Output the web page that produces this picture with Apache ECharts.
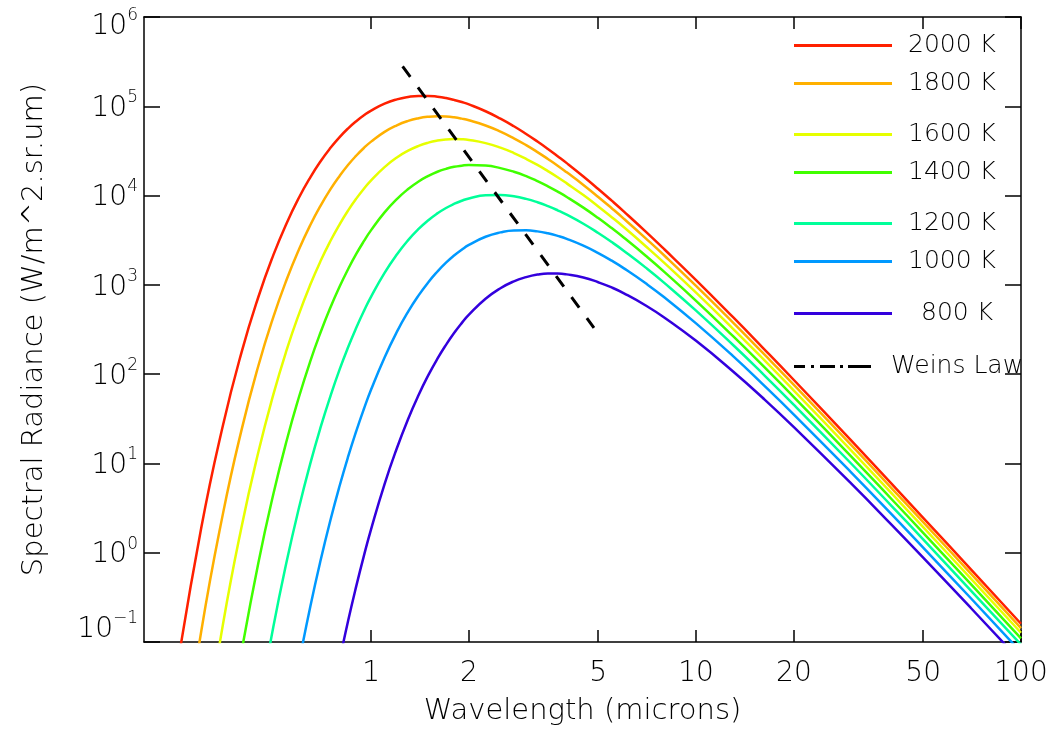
<!DOCTYPE html>
<html>
<head>
<meta charset="utf-8">
<script src="https://cdn.jsdelivr.net/npm/echarts@6/dist/echarts.min.js"></script>
<style>
html,body{margin:0;padding:0;background:#fff;}
#chart{width:1056px;height:738px;}
</style>
</head>
<body>
<div id="chart"></div>
<script>
// ---------------- data ----------------
const wavelength = [
  0.25, 0.3, 0.35, 0.4, 0.45, 0.5,
  0.55, 0.6, 0.65, 0.7, 0.75, 0.8, 0.85, 0.9, 0.95, 1,
  1.1, 1.2, 1.3, 1.4, 1.5, 1.6, 1.7, 1.8, 1.9, 2,
  2.25, 2.5, 2.75, 3, 3.25, 3.5, 3.75, 4,
  4.5, 5, 5.5, 6, 7, 8, 10,
  13, 16, 20, 30, 40, 50, 70, 100];

const seriesNames = ['2000 K', '1800 K', '1600 K', '1400 K', '1200 K', '1000 K', '800 K'];

const radiance2000 = [
  0.039, 1.89, 26.8, 180, 736, 2150,
  4936, 9510, 16020, 24400, 34260, 45200, 56640, 68100, 79200, 89500,
  106900, 119500, 127200, 130700, 130700, 128100, 123700, 117900, 111600, 104900,
  88000, 72700, 59740, 49000, 40320, 33300, 27640, 23100,
  16360, 11850, 8767, 6610, 3950, 2490, 1131,
  434, 200, 86.0, 18.1, 5.90, 2.46, 0.655, 0.160];
const radiance1800 = [
  0.00159, 0.131, 2.74, 24.4, 125, 435,
  1154, 2510, 4686, 7780, 11800, 16600, 22120, 28000, 34130, 40200,
  51710, 61300, 68660, 73600, 76430, 77400, 76840, 75200, 72720, 69700,
  60930, 52000, 43780, 36700, 30700, 25700, 21630, 18200,
  13150, 9660, 7220, 5490, 3320, 2120, 973,
  378, 175, 75.8, 16.1, 5.26, 2.20, 0.586, 0.143];
const radiance1600 = [
  null, 0.0047, 0.158, 2.01, 13.5, 58.9,
  188, 474, 1007, 1870, 3116, 4770, 6828, 9240, 11920, 14800,
  20820, 26700, 31800, 36000, 39150, 41300, 42520, 42900, 42720, 42000,
  38660, 34400, 29920, 25700, 22030, 18800, 16060, 13700,
  10120, 7560, 5731, 4410, 2710, 1750, 817,
  322, 151, 65.5, 14.0, 4.61, 1.93, 0.517, 0.127];
const radiance1400 = [
  null, null, null, 0.0808, 0.779, 4.51,
  18.2, 55.8, 140, 298, 562, 958, 1506, 2220, 3085, 4100,
  6477, 9130, 11830, 14400, 16610, 18500, 19920, 21000, 21630, 22000,
  21670, 20300, 18480, 16500, 14520, 12700, 11080, 9650,
  7323, 5600, 4320, 3370, 2120, 1390, 663,
  266, 126, 55.4, 12.0, 3.97, 1.67, 0.448, 0.110];
const radiance1200 = [
  null, null, null, null, 0.0173, 0.147,
  0.806, 3.21, 10.0, 25.8, 57.2, 113, 201, 330, 508, 739,
  1365, 2190, 3168, 4230, 5300, 6320, 7262, 8070, 8758, 9290,
  10060, 10160, 9802, 9180, 8420, 7620, 6842, 6110,
  4833, 3810, 3016, 2400, 1560, 1046, 514,
  212, 102, 45.3, 9.98, 3.33, 1.41, 0.379, 0.0935];
const radiance1000 = [
  null, null, null, null, null, null,
  null, 0.059, 0.250, 0.839, 2.34, 5.62, 11.96, 23.0, 40.7, 67.2,
  154, 297, 501, 762, 1071, 1410, 1771, 2130, 2476, 2800,
  3455, 3870, 4068, 4080, 3972, 3780, 3540, 3280,
  2750, 2270, 1866, 1530, 1040, 721, 370,
  159, 77.9, 35.3, 7.96, 2.69, 1.14, 0.311, 0.0770];
const radiance800 = [
  null, null, null, null, null, null,
  null, null, null, null, null, 0.0627, 0.174, 0.422, 0.923, 1.84,
  5.87, 14.8, 31.5, 58.4, 97.4, 149, 213, 289, 373, 463,
  698, 917, 1095, 1220, 1303, 1340, 1338, 1310,
  1209, 1070, 935, 804, 588, 429, 236,
  107, 54.7, 25.5, 5.97, 2.05, 0.880, 0.242, 0.0605];

const wienName = 'Weins Law';
const wienWavelength = [1.25, 4.85];
const wienRadiance = [2.8e5, 330];

const xTickValues = [1, 2, 5, 10, 20, 50, 100];
const xMin = 0.2, xMax = 100;
const yMin = 0.1, yMax = 1e6;

// ---------------- styling ----------------
const colors = ['#ff2000', '#ffb000', '#e6ff00', '#40ff00', '#00ff99', '#0099ff', '#3300dd'];
const FONT = 'DejaVu Sans';
const FW = 300;
const allRadiance = [radiance2000, radiance1800, radiance1600, radiance1400, radiance1200, radiance1000, radiance800];

const legendIconY = [52, 90, 141, 179, 230, 268, 320];
const legendTextPadLeft = [11, 11, 11, 11, 11, 11, 24];

const xTickLogs = xTickValues.map(v => Math.log10(v));
const lineAxis = { show: true, onZero: false, lineStyle: { color: '#000', width: 1.5 } };

const series = allRadiance.map((arr, i) => ({
  name: seriesNames[i],
  type: 'line',
  xAxisIndex: 0, yAxisIndex: 0,
  data: wavelength.map((w, j) => [w, arr[j]]),
  showSymbol: false, symbol: 'none',
  smooth: 0.5,
  lineStyle: { color: colors[i], width: 2.5 },
  itemStyle: { color: colors[i] },
  clip: true,
  silent: true,
  animation: false
}));
series.push({
  name: wienName,
  type: 'line',
  xAxisIndex: 0, yAxisIndex: 0,
  data: wienWavelength.map((w, j) => [w, wienRadiance[j]]),
  symbol: 'none',
  lineStyle: { color: '#000', width: 3, type: [13, 13] },
  itemStyle: { color: '#000' },
  silent: true,
  animation: false
});

const legends = seriesNames.map((n, i) => ({
  data: [{ name: n, icon: 'rect' }],
  left: 794, top: legendIconY[i] - 19,
  padding: 0,
  itemWidth: 98, itemHeight: 3,
  selectedMode: false,
  textStyle: { fontFamily: FONT, fontWeight: FW, fontSize: 25, color: '#000', padding: [0, 0, 14, legendTextPadLeft[i]] }
}));
legends.push({
  data: [{ name: wienName, icon: 'path://M0,0h11v3h-11z M17,0h3v3h-3z M26,0h15v3h-15z M46,0h3v3h-3z M54,0h23v3h-23z' }],
  left: 794, top: 373 - 19,
  padding: 0,
  itemWidth: 77, itemHeight: 3,
  selectedMode: false,
  textStyle: { fontFamily: FONT, fontWeight: FW, fontSize: 25, color: '#000', padding: [0, 0, 12, 15] }
});

function yLabel(v) {
  const e = Math.round(Math.log10(v));
  const s = e < 0 ? '\u2212' + (-e) : String(e);
  const k = e === 6 ? 't' : (e === -1 ? 'u' : 'm');
  return '{' + k + 'a|10}{' + k + 'b|' + s + '}';
}
const baseA = { fontFamily: FONT, fontWeight: FW, fontSize: 28, color: '#000', lineHeight: 30 };
const baseB = { fontFamily: FONT, fontWeight: FW, fontSize: 17, color: '#000', lineHeight: 30 };

const option = {
  backgroundColor: '#fff',
  animation: false,
  grid: { left: 144, right: 35, top: 17, bottom: 96, containLabel: false, outerBoundsMode: 'none' },
  legend: legends,
  xAxis: [
    {
      type: 'log', logBase: 10, min: xMin, max: xMax, position: 'bottom',
      axisLine: lineAxis, axisTick: { show: false }, axisLabel: { show: false }, splitLine: { show: false },
      name: 'Wavelength (microns)', nameLocation: 'middle', nameGap: 55,
      nameTextStyle: { fontFamily: FONT, fontWeight: FW, fontSize: 29, color: '#000' }
    },
    {
      type: 'value', min: Math.log10(xMin), max: Math.log10(xMax), position: 'bottom',
      axisLine: { show: false, onZero: false },
      axisTick: { show: true, inside: true, length: 12, customValues: xTickLogs, lineStyle: { color: '#000', width: 1.5 } },
      axisLabel: {
        show: true, customValues: xTickLogs, margin: 18,
        fontFamily: FONT, fontWeight: FW, fontSize: 28, color: '#000',
        formatter: v => { const i = xTickLogs.findIndex(t => Math.abs(t - v) < 1e-6); return i >= 0 ? String(xTickValues[i]) : ''; }
      },
      splitLine: { show: false }
    },
    {
      type: 'value', min: Math.log10(xMin), max: Math.log10(xMax), position: 'top',
      axisLine: lineAxis,
      axisTick: { show: true, inside: true, length: 12, customValues: xTickLogs, lineStyle: { color: '#000', width: 1.5 } },
      axisLabel: { show: false }, splitLine: { show: false }
    }
  ],
  yAxis: [
    {
      type: 'log', logBase: 10, min: yMin, max: yMax, position: 'left',
      axisLine: lineAxis,
      axisTick: { show: true, inside: true, length: 16, lineStyle: { color: '#000', width: 1.5 } },
      axisLabel: {
        margin: 6, formatter: yLabel,
        rich: {
          ma: Object.assign({}, baseA, { padding: [5, 0, 0, 0] }),
          mb: Object.assign({}, baseB, { padding: [5, 0, 22, 0] }),
          ta: Object.assign({}, baseA, { padding: [20, 0, 0, 0] }),
          tb: Object.assign({}, baseB, { padding: [20, 0, 22, 0] }),
          ua: Object.assign({}, baseA, { padding: [0, 0, 24, 0] }),
          ub: Object.assign({}, baseB, { padding: [0, 0, 46, 0] })
        }
      },
      splitLine: { show: false },
      name: 'Spectral Radiance (W/m^2.sr.um)', nameLocation: 'middle', nameGap: 95, nameRotate: 90,
      nameTextStyle: { fontFamily: FONT, fontWeight: FW, fontSize: 29, color: '#000' }
    },
    {
      type: 'log', logBase: 10, min: yMin, max: yMax, position: 'right',
      axisLine: lineAxis,
      axisTick: { show: true, inside: true, length: 16, lineStyle: { color: '#000', width: 1.5 } },
      axisLabel: { show: false }, splitLine: { show: false }
    }
  ],
  series: series
};

const chart = echarts.init(document.getElementById('chart'), null, { renderer: 'canvas' });
chart.setOption(option);
</script>
</body>
</html>
